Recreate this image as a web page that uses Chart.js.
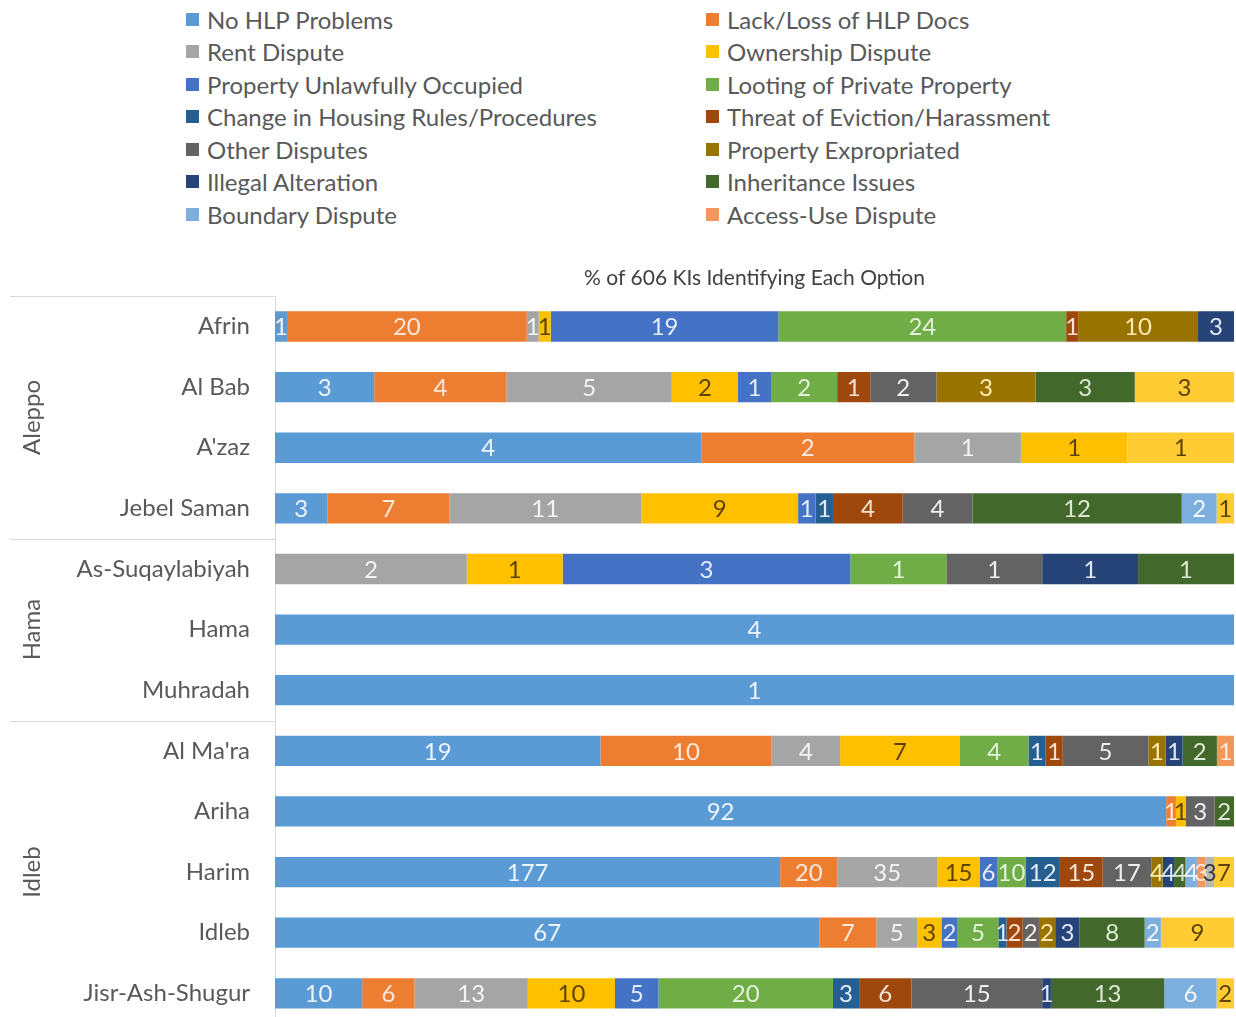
<!DOCTYPE html>
<html>
<head>
<meta charset="utf-8">
<script src="https://cdn.jsdelivr.net/npm/chart.js@4.4.1/dist/chart.umd.min.js"></script>
<style>
  html, body { margin: 0; padding: 0; background: #fff; overflow: hidden; }
  body { width: 1236px; height: 1017px; position: relative; font-family: Lato, "Open Sans", sans-serif; }
  #legenda { position: absolute; left: 186px; top: 3px; display: grid; grid-template-columns: 520px 520px; }
  #legenda .item { height: 32.5px; display: flex; align-items: center; font-size: 24px; color: #595959; white-space: nowrap; }
  #legenda .box { width: 13px; height: 13px; margin-right: 8px; flex: none; }
  #graficoHLP { position: absolute; left: 0; top: 240px; }
</style>
</head>
<body>
<div id="legenda"></div>
<canvas id="graficoHLP" width="1236" height="823"></canvas>
<script>
// Categorias (sub-distritos) e agrupamento por governorado
const categorias = ['Afrin', 'Al Bab', "A'zaz", 'Jebel Saman', 'As-Suqaylabiyah', 'Hama', 'Muhradah',
    "Al Ma'ra", 'Ariha', 'Harim', 'Idleb', 'Jisr-Ash-Shugur'];
const grupos = ['Aleppo', 'Hama', 'Idleb'];
const tamanhoGrupos = [4, 3, 5];

// Nomes das séries (as duas últimas não aparecem na legenda)
const series = ['No HLP Problems', 'Lack/Loss of HLP Docs', 'Rent Dispute', 'Ownership Dispute',
    'Property Unlawfully Occupied', 'Looting of Private Property', 'Change in Housing Rules/Procedures',
    'Threat of Eviction/Harassment', 'Other Disputes', 'Property Expropriated', 'Illegal Alteration',
    'Inheritance Issues', 'Boundary Dispute', 'Access-Use Dispute', "Don't Know", 'Other'];
const seriesNaLegenda = 14;

// Contagens de KIs por série (mesma ordem das categorias)
const semProblemas   = [1, 3, 4, 3, 0, 4, 1, 19, 92, 177, 67, 10];
const faltaDocs      = [20, 4, 2, 7, 0, 0, 0, 10, 1, 20, 7, 6];
const aluguel        = [1, 5, 1, 11, 2, 0, 0, 4, 0, 35, 5, 13];
const propriedade    = [1, 2, 1, 9, 1, 0, 0, 7, 1, 15, 3, 10];
const ocupacao       = [19, 1, 0, 1, 3, 0, 0, 0, 0, 6, 2, 5];
const saque          = [24, 2, 0, 0, 1, 0, 0, 4, 0, 10, 5, 20];
const mudancaRegras  = [0, 0, 0, 1, 0, 0, 0, 1, 0, 12, 1, 3];
const ameacaDespejo  = [1, 1, 0, 4, 0, 0, 0, 1, 0, 15, 2, 6];
const outrasDisputas = [0, 2, 0, 4, 1, 0, 0, 5, 3, 17, 2, 15];
const expropriacao   = [10, 3, 0, 0, 0, 0, 0, 1, 0, 4, 2, 0];
const alteracao      = [3, 0, 0, 0, 1, 0, 0, 1, 0, 4, 3, 1];
const heranca        = [0, 3, 0, 12, 1, 0, 0, 2, 2, 4, 8, 13];
const limites        = [0, 0, 0, 2, 0, 0, 0, 0, 0, 4, 2, 6];
const acessoUso      = [0, 0, 0, 0, 0, 0, 0, 1, 0, 3, 0, 0];
const naoSabe        = [0, 0, 0, 0, 0, 0, 0, 0, 0, 3, 0, 0];
const outros         = [0, 3, 1, 1, 0, 0, 0, 0, 0, 7, 9, 2];

const contagens = [semProblemas, faltaDocs, aluguel, propriedade, ocupacao, saque, mudancaRegras,
    ameacaDespejo, outrasDisputas, expropriacao, alteracao, heranca, limites, acessoUso, naoSabe, outros];

const cores = ['#5B9BD5', '#ED7D31', '#A5A5A5', '#FFC000', '#4472C4', '#70AD47', '#255E91', '#9E480E',
    '#636363', '#997300', '#264478', '#43682B', '#7CAFDD', '#F1975A', '#B7B7B7', '#FFCD33'];
const coresRotulo = ['#EEF4FB', '#FCE9DC', '#F4F4F4', '#5E4300', '#E6ECF8', '#E4F1DC', '#E3ECF6', '#F7E2D4',
    '#EFEFEF', '#FFEBB0', '#E3E8F3', '#DCE8D3', '#F2F7FC', '#FCEADE', '#3A3A3A', '#5E4300'];

// Totais por categoria, para o gráfico 100%
const totais = categorias.map((_, i) => contagens.reduce((s, arr) => s + arr[i], 0));

const fonte = 'Lato, "Open Sans", sans-serif';

const rotulosPlugin = {
    id: 'rotulos',
    afterDatasetsDraw(chart) {
        const ctx = chart.ctx;
        ctx.save();
        ctx.font = '24px ' + fonte;
        ctx.textAlign = 'center';
        ctx.textBaseline = 'middle';
        chart.data.datasets.forEach((ds, d) => {
            chart.getDatasetMeta(d).data.forEach((el, i) => {
                const n = ds.contagem[i];
                if (!n) return;
                const p = el.getCenterPoint();
                ctx.fillStyle = coresRotulo[d];
                ctx.fillText(String(n), p.x, p.y + 1);
            });
        });
        ctx.restore();
    }
};

const gruposPlugin = {
    id: 'grupos',
    afterDraw(chart) {
        const ctx = chart.ctx;
        const y = chart.scales.y;
        const area = chart.chartArea;
        const passo = y.getPixelForValue(1) - y.getPixelForValue(0);
        ctx.save();
        ctx.strokeStyle = '#D9D9D9';
        ctx.lineWidth = 1;
        ctx.fillStyle = '#595959';
        ctx.font = '24px ' + fonte;
        ctx.textAlign = 'center';
        ctx.textBaseline = 'middle';
        let inicio = 0;
        grupos.forEach((nome, g) => {
            const topo = y.getPixelForValue(inicio) - passo / 2;
            const fim = inicio + tamanhoGrupos[g] - 1;
            const base = y.getPixelForValue(fim) + passo / 2;
            ctx.beginPath();
            ctx.moveTo(10, Math.round(topo) + 0.5);
            ctx.lineTo(area.left, Math.round(topo) + 0.5);
            ctx.stroke();
            ctx.save();
            ctx.translate(32, (topo + base) / 2);
            ctx.rotate(-Math.PI / 2);
            ctx.fillText(nome, 0, 0);
            ctx.restore();
            inicio = fim + 1;
        });
        ctx.restore();
    }
};

const grafico = new Chart(document.getElementById('graficoHLP'), {
    type: 'bar',
    data: {
        labels: categorias,
        datasets: series.map((nome, s) => ({
            label: nome,
            contagem: contagens[s],
            data: contagens[s].map((v, i) => v ? v / totais[i] * 100 : null),
            backgroundColor: cores[s],
            borderWidth: 0,
            barPercentage: 0.5,
            categoryPercentage: 1
        }))
    },
    options: {
        indexAxis: 'y',
        responsive: false,
        animation: false,
        layout: { padding: { top: 26, right: 2, bottom: 6, left: 0 } },
        plugins: {
            legend: { display: false },
            tooltip: { enabled: false }
        },
        scales: {
            x: {
                position: 'top',
                stacked: true,
                min: 0,
                max: 100,
                grid: { display: false, drawTicks: false },
                border: { display: false },
                ticks: { display: false },
                title: {
                    display: true,
                    text: '% of 606 KIs Identifying Each Option',
                    color: '#404040',
                    font: { family: fonte, size: 21 },
                    padding: { top: 0, bottom: 5 }
                }
            },
            y: {
                stacked: true,
                grid: { display: false, drawTicks: false },
                border: { display: true, color: '#D9D9D9' },
                ticks: {
                    color: '#595959',
                    padding: 25,
                    font: { family: fonte, size: 24 }
                },
                afterFit(scale) { scale.width = 275; }
            }
        }
    },
    plugins: [rotulosPlugin, gruposPlugin]
});

// Legenda em HTML, duas colunas
const legenda = document.getElementById('legenda');
grafico.data.datasets.slice(0, seriesNaLegenda).forEach(ds => {
    const item = document.createElement('div');
    item.className = 'item';
    item.innerHTML = '<span class="box" style="background:' + ds.backgroundColor + '"></span>' + ds.label;
    legenda.appendChild(item);
});
</script>
</body>
</html>
